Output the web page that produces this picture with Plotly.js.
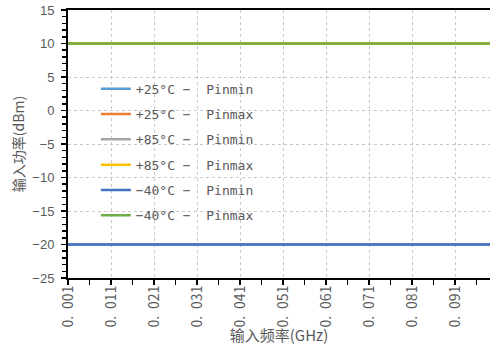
<!DOCTYPE html>
<html>
<head>
<meta charset="utf-8">
<script src="https://cdn.plot.ly/plotly-3.0.1.min.js"></script>
<style>html,body{margin:0;padding:0;background:#fff;}#chart{width:490px;height:345px;}</style>
</head>
<body>
<div id="chart"></div>
<script>
// Data
const freqGHz = [0.001, 0.011, 0.021, 0.031, 0.041, 0.051, 0.061, 0.071, 0.081, 0.091, 0.1];
const seriesNames = ["+25°C −  Pinmin", "+25°C −  Pinmax", "+85°C −  Pinmin", "+85°C −  Pinmax", "−40°C −  Pinmin", "−40°C −  Pinmax"];
const p25min = [-20, -20, -20, -20, -20, -20, -20, -20, -20, -20, -20];
const p25max = [10, 10, 10, 10, 10, 10, 10, 10, 10, 10, 10];
const p85min = [-20, -20, -20, -20, -20, -20, -20, -20, -20, -20, -20];
const p85max = [10, 10, 10, 10, 10, 10, 10, 10, 10, 10, 10];
const m40min = [-20, -20, -20, -20, -20, -20, -20, -20, -20, -20, -20];
const m40max = [10, 10, 10, 10, 10, 10, 10, 10, 10, 10, 10];
const xTickVals = [0.001, 0.011, 0.021, 0.031, 0.041, 0.051, 0.061, 0.071, 0.081, 0.091];
const xTickText = ["0.\u2002001", "0.\u2002011", "0.\u2002021", "0.\u2002031", "0.\u2002041", "0.\u2002051", "0.\u2002061", "0.\u2002071", "0.\u2002081", "0.\u2002091"];
const xMinorVals = [0.006, 0.016, 0.026, 0.036, 0.046, 0.056, 0.066, 0.076, 0.086, 0.096];
const yTickVals = [-25, -20, -15, -10, -5, 0, 5, 10, 15];
const yTickText = ["−25", "−20", "−15", "−10", "−5", "0", "5", "10", "15"];

const seriesValues = [p25min, p25max, p85min, p85max, m40min, m40max];
const colors = ["#5B9BD5", "#ED7D31", "#A5A5A5", "#FFC000", "#4472C4", "#70AD47"];

const traces = seriesValues.map((vals, i) => ({
  x: freqGHz, y: vals, name: seriesNames[i], type: "scatter", mode: "lines",
  legendgroup: "g" + i,
  line: {color: colors[i], width: 2.5}
}));

const gridColor = "#C8C8C8";
const layout = {
  width: 490, height: 345,
  margin: {l: 68, r: 0, t: 10, b: 67},
  paper_bgcolor: "#fff", plot_bgcolor: "#fff",
  showlegend: true,
  legend: {
    x: 0.066, y: 0.762, xanchor: "left", yanchor: "top",
    bgcolor: "rgba(0,0,0,0)", tracegroupgap: 5.4,
    font: {family: "DejaVu Sans Mono, Noto Sans CJK SC", size: 13, color: "#595959"}
  },
  xaxis: {
    range: [0.001, 0.0991], fixedrange: true,
    tickmode: "array", tickvals: xTickVals, ticktext: xTickText,
    tickangle: -90,
    tickfont: {family: "Noto Sans CJK SC", size: 14, color: "#595959"},
    ticklabelstandoff: -5,
    ticks: "outside", ticklen: 5, tickwidth: 1.5, tickcolor: "#000",
    minor: {tickvals: xMinorVals, ticks: "outside", ticklen: 5, tickwidth: 1.5, tickcolor: "#000", showgrid: false},
    showline: true, linecolor: "#000", linewidth: 2, mirror: true,
    showgrid: true, gridcolor: gridColor, griddash: "dot", gridwidth: 1,
    zeroline: false, automargin: false,
    title: {text: "输入频率(GHz)", font: {family: "Noto Sans CJK SC", size: 15, color: "#595959"}, standoff: 0}
  },
  yaxis: {
    range: [-25, 15], fixedrange: true,
    tickmode: "array", tickvals: yTickVals, ticktext: yTickText,
    tickfont: {family: "Liberation Sans, Arial", size: 13, color: "#595959"},
    ticks: "outside", ticklen: 5, tickwidth: 1.5, tickcolor: "#000",
    ticklabelstandoff: 4,
    minor: {dtick: 1, ticks: "outside", ticklen: 4, tickwidth: 1.5, tickcolor: "#000", showgrid: false},
    showline: true, linecolor: "#000", linewidth: 2,
    showgrid: true, gridcolor: gridColor, griddash: "dot", gridwidth: 1,
    zeroline: false, automargin: false,
    title: {text: "输入功率(dBm)", font: {family: "Noto Sans CJK SC", size: 14, color: "#595959"}, standoff: 4}
  }
};

Plotly.newPlot("chart", traces, layout, {displayModeBar: false, staticPlot: true});
</script>
</body>
</html>
